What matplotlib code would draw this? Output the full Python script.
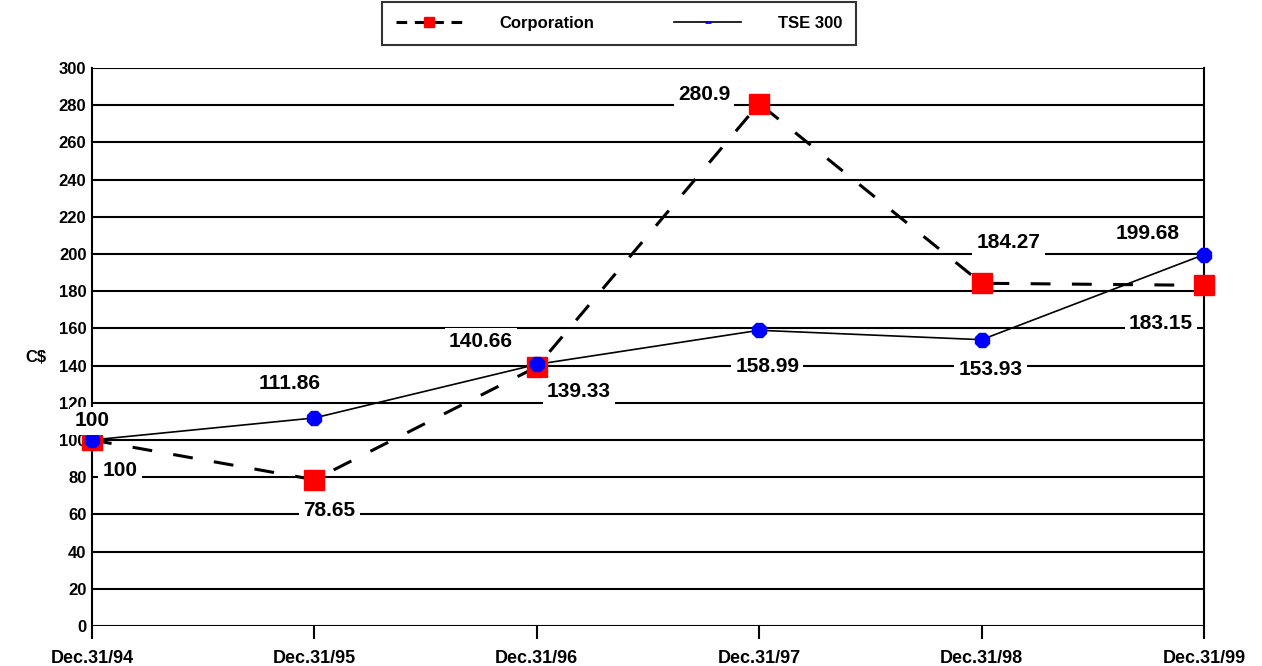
import matplotlib
matplotlib.use("Agg")
import matplotlib.pyplot as plt
from matplotlib.lines import Line2D

categories = ["Dec.31/94", "Dec.31/95", "Dec.31/96", "Dec.31/97", "Dec.31/98", "Dec.31/99"]
corporation = [100, 78.65, 139.33, 280.9, 184.27, 183.15]
tse300 = [100, 111.86, 140.66, 158.99, 153.93, 199.68]
corp_labels = ["100", "78.65", "139.33", "280.9", "184.27", "183.15"]
tse_labels = ["100", "111.86", "140.66", "158.99", "153.93", "199.68"]
y_ticks = list(range(0, 301, 20))

plt.rcParams['font.family'] = ['Liberation Sans', 'DejaVu Sans']

fig = plt.figure(figsize=(12.62, 6.66), dpi=100)
ax = fig.add_axes([92/1262, 40/666, (1204-92)/1262, (626-68)/666])

x = list(range(len(categories)))

ax.set_ylim(0, 300)
ax.set_xlim(0, len(categories) - 1)
ax.set_yticks(y_ticks)
ax.set_yticklabels([str(v) for v in y_ticks], fontsize=12, fontweight='bold')
ax.set_xticks(x)
ax.set_xticklabels(categories, fontsize=13, fontweight='bold')
ax.tick_params(axis='y', length=0, pad=4)
ax.tick_params(axis='x', length=9, width=1.5, direction='out', pad=8, color='black')

for v in y_ticks:
    ax.axhline(v, color='black', lw=1.5, zorder=1)

for side in ['top', 'bottom']:
    ax.spines[side].set_visible(False)
ax.spines['left'].set_linewidth(1.5)
ax.spines['right'].set_linewidth(1.5)

ax.plot(x, tse300, color='black', lw=1.2, zorder=3, clip_on=False)
ax.plot(x, corporation, color='black', lw=2.2, linestyle=(0, (6.5, 7)), zorder=3, clip_on=False)
ax.plot(x, corporation, linestyle='none', marker='s', markersize=15,
        markerfacecolor='red', markeredgecolor='red', zorder=4, clip_on=False)
ax.plot(x, tse300, linestyle='none', marker='8', markersize=11,
        markerfacecolor='blue', markeredgecolor='blue', zorder=5, clip_on=False)

corp_off = [(28, -30), (15, -31), (42, -25), (-55, 9), (27, 41), (-43, -38)]
tse_off = [(0, 19), (-25, 34), (-56, 23), (8, -36), (9, -30), (-56, 21)]

for xi, yi, lab, off in zip(x, corporation, corp_labels, corp_off):
    ax.annotate(lab, (xi, yi), xytext=off, textcoords='offset pixels',
                ha='center', va='center', fontsize=15, fontweight='bold',
                bbox=dict(boxstyle='square,pad=0.2', fc='white', ec='none'),
                zorder=6, annotation_clip=False)
for xi, yi, lab, off in zip(x, tse300, tse_labels, tse_off):
    ax.annotate(lab, (xi, yi), xytext=off, textcoords='offset pixels',
                ha='center', va='center', fontsize=15, fontweight='bold',
                bbox=dict(boxstyle='square,pad=0.2', fc='white', ec='none'),
                zorder=6, annotation_clip=False)

fig.text(36/1262, 1 - 358/666, "C$", fontsize=12, fontweight='bold', ha='center', va='center')

handles = [
    Line2D([], [], color='black', lw=2.2, linestyle=(0, (3.5, 2.5)), marker='s', markersize=7,
           markerfacecolor='red', markeredgecolor='red'),
    Line2D([], [], color='black', lw=1.2, marker='_', markersize=5,
           markerfacecolor='blue', markeredgecolor='blue', markeredgewidth=2),
]
leg = fig.legend(handles, ["Corporation", "TSE 300"], loc='upper center',
                 bbox_to_anchor=(619/1262, 1 - 2/666), borderaxespad=0, ncol=2, frameon=True,
                 fancybox=False, edgecolor='black', fontsize=12, handlelength=4,
                 columnspacing=4.8, borderpad=0.85, handletextpad=2.2)
leg.get_frame().set_linewidth(1.5)
for t in leg.get_texts():
    t.set_fontweight('bold')

fig.savefig("out.png", dpi=100)
